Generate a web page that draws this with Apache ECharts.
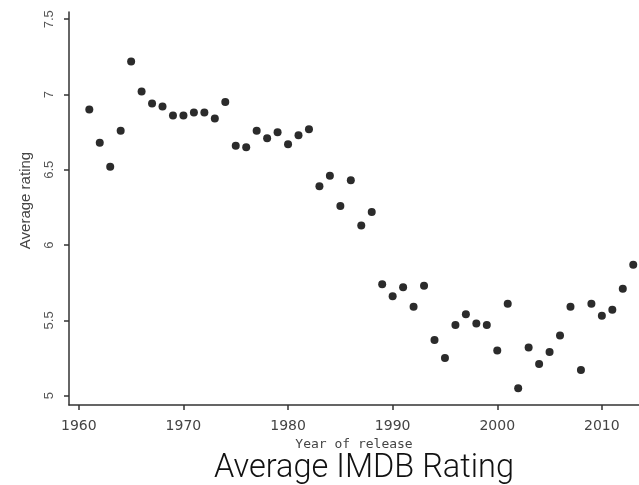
<!DOCTYPE html>
<html>
<head>
<meta charset="utf-8">
<script src="https://cdn.jsdelivr.net/npm/echarts@6/dist/echarts.min.js"></script>
<style>html,body{margin:0;padding:0;background:#fff}#c{width:639px;height:485px}</style>
</head>
<body>
<div id="c"></div>
<script>
const years = [1961,1962,1963,1964,1965,1966,1967,1968,1969,1970,1971,1972,1973,1974,1975,1976,1977,1978,1979,1980,1981,1982,1983,1984,1985,1986,1987,1988,1989,1990,1991,1992,1993,1994,1995,1996,1997,1998,1999,2000,2001,2002,2003,2004,2005,2006,2007,2008,2009,2010,2011,2012,2013];
const ratings = [6.90,6.68,6.52,6.76,7.22,7.02,6.94,6.92,6.86,6.86,6.88,6.88,6.84,6.95,6.66,6.65,6.76,6.71,6.75,6.67,6.73,6.77,6.39,6.46,6.26,6.43,6.13,6.22,5.74,5.66,5.72,5.59,5.73,5.37,5.25,5.47,5.54,5.48,5.47,5.30,5.61,5.05,5.32,5.21,5.29,5.40,5.59,5.17,5.61,5.53,5.57,5.71,5.87];
const xTicks = [1960,1970,1980,1990,2000,2010];
const yTicks = [5,5.5,6,6.5,7,7.5];
const titleText = "Average IMDB Rating";
const xName = "Year of release";
const yName = "Average rating";

const chart = echarts.init(document.getElementById('c'), null, {renderer:'canvas'});
chart.setOption({
  animation: false,
  title: {
    text: titleText,
    left: 209, top: 447,
    textStyle: {fontFamily: 'Roboto', fontWeight: 300, fontSize: 32.5, color: '#111'}
  },
  grid: {left: 69, right: 0, top: 12, bottom: 80, containLabel: false},
  xAxis: {
    type: 'value', min: 1959.06, max: 2013.55,
    name: xName, nameLocation: 'middle', nameGap: 28,
    nameTextStyle: {fontFamily: 'DejaVu Sans Mono', fontSize: 13, color: '#444'},
    axisLine: {show: true, lineStyle: {color: '#333', width: 1.5}},
    axisTick: {show: true, length: 5, customValues: xTicks, lineStyle: {color: '#333', width: 1.5}},
    axisLabel: {customValues: xTicks, fontFamily: 'DejaVu Sans', fontSize: 14, color: '#444', margin: 14,
      formatter: v => String(v)},
    splitLine: {show: false}
  },
  yAxis: {
    type: 'value', min: 4.938, max: 7.548,
    name: yName, nameLocation: 'middle', nameGap: 36, nameRotate: 90,
    nameTextStyle: {fontFamily: 'Liberation Sans', fontSize: 15, color: '#444', padding: [0, 0, 0, 16]},
    axisLine: {show: true, lineStyle: {color: '#333', width: 1.5}},
    axisTick: {show: true, length: 5, customValues: yTicks, lineStyle: {color: '#333', width: 1.5}},
    axisLabel: {customValues: yTicks, rotate: 90, fontFamily: 'Liberation Sans', fontSize: 13, color: '#555', margin: 13,
      formatter: v => String(v)},
    splitLine: {show: false}
  },
  series: [{
    type: 'scatter',
    data: years.map((y, i) => [y, ratings[i]]),
    symbol: 'circle', symbolSize: 8,
    itemStyle: {color: '#2b2b2b', opacity: 1}
  }]
});
</script>
</body>
</html>
